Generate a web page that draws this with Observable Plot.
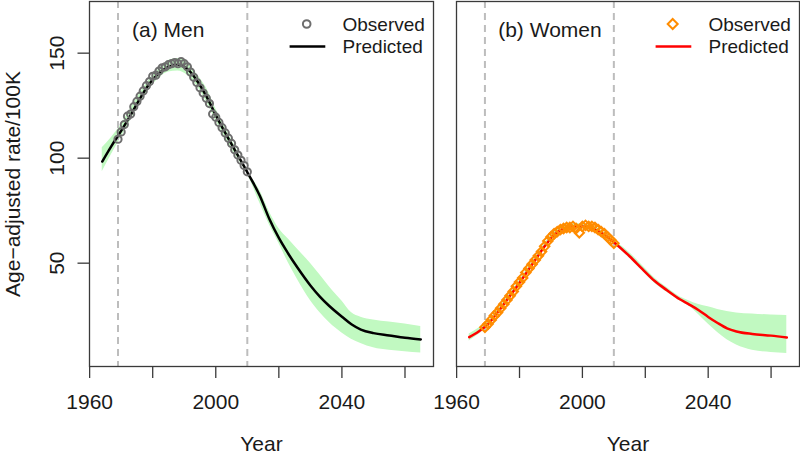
<!DOCTYPE html>
<html>
<head>
<meta charset="utf-8">
<script src="https://cdn.jsdelivr.net/npm/d3@7"></script>
<script src="https://cdn.jsdelivr.net/npm/@observablehq/plot@0.6"></script>
<style>
  body { margin: 0; background: #fff; }
  #wrap { display: flex; width: 800px; height: 454px; }
  #wrap svg { display: block; }
</style>
</head>
<body>
<div id="wrap"></div>
<script>
// ---------- data ----------
const obsYears = d3.range(1969, 2011);

const menObs = [109, 112.5, 116, 120, 121, 124.5, 127, 129.5, 132, 134.5, 136.5, 139, 139.5, 141.5,
  143, 143.5, 144.5, 145, 145.5, 145, 146, 145, 143.5, 141, 138.5, 136, 133.5, 131, 128.5, 126,
  121, 119.5, 117, 114.5, 112, 109.5, 107, 104, 101.5, 99, 96.5, 93.5];

const womenObs = [19.5, 21, 23, 25, 26.5, 28.5, 30.5, 32.5, 34.5, 36.5, 39, 41, 43, 45.5, 47.5,
  49.5, 51.5, 53.5, 55.5, 58, 60.5, 62.5, 64, 65, 66, 66.5, 67, 67, 67.5, 66.5, 64.5, 67.5, 68,
  67.5, 67.5, 67, 66, 65, 64, 62.5, 61, 59.5];

const menPredYears = [1964, 1967, 1970, 1973, 1976, 1979, 1982, 1985, 1988, 1991, 1994, 1997, 2000,
  2003, 2006, 2010, 2014, 2017, 2020, 2023, 2026, 2030, 2033, 2036, 2040, 2043, 2046, 2050, 2055, 2060, 2065];
const menPred = [98.4, 106, 113, 120.5, 128.5, 135.5, 140.5, 143.5, 144.5, 142.5, 137, 129.5, 120.5,
  112, 104, 93.3, 82, 71, 62, 54.5, 47.7, 39.4, 34.1, 29.6, 24.5, 20.9, 18.4, 16.7, 15.6, 14.5, 13.7];
const menLo = [93.5, 102, 110, 118, 126, 133, 138, 141, 141.5, 139.5, 134.5, 127, 118,
  109.5, 102, 92.5, 78.5, 68.3, 59.5, 50.2, 42, 32.2, 26.5, 21.7, 16.8, 13.8, 11.8, 9.7, 8.5, 7.8, 7.2];
const menHi = [105, 110, 116, 123.5, 131, 137.5, 142.5, 146.5, 147.5, 145.5, 140, 133.5, 123.5,
  114.5, 106, 94, 84.5, 74.5, 66.5, 61.5, 56.5, 50, 44.5, 38.8, 32, 26.5, 24.3, 23, 22, 21, 19.8];

const womenPredYears = [1964, 1967, 1970, 1973, 1976, 1979, 1982, 1985, 1988, 1991, 1994, 1997, 2000,
  2003, 2006, 2010, 2015, 2019, 2023, 2027, 2031, 2034, 2037, 2040, 2043, 2046, 2049, 2054, 2060, 2065];
const womenPred = [14.8, 17.5, 21, 26.5, 32.5, 38.5, 45, 51.5, 58, 63.5, 66.5, 67.5, 67.5,
  66.5, 64.5, 60, 53.3, 47.3, 41.5, 37, 32.8, 30.3, 27.6, 24.4, 21.5, 19, 17.5, 16.3, 15.5, 14.6];
const womenLo = [13, 16, 20, 25.5, 31.3, 37.3, 43.8, 50.3, 56.8, 62.3, 65.3, 66.3, 66.3,
  65.3, 63.3, 59, 52.5, 46.5, 40.5, 36, 32, 29.5, 25.5, 21, 17, 13.5, 11, 8.5, 7.5, 7];
const womenHi = [16.3, 19, 22.5, 27.8, 33.8, 39.8, 46.3, 52.8, 59.3, 64.8, 67.8, 68.8, 68.8,
  67.8, 65.8, 61, 55, 49, 43, 38.3, 34, 32, 30.3, 29.2, 28, 27, 26.3, 25.8, 25.3, 25.1];

const cutoffYears = [1969, 2010];
const xTicks = [1960, 1980, 2000, 2020, 2040, 2060];
const xTickLabels = ["1960", "2000", "2040"];
const yTicks = [50, 100, 150];
const yTickLabels = ["50", "100", "150"];
const legendLabels = ["Observed", "Predicted"];
const panelLabels = ["(a) Men", "(b) Women"];
const yLabel = "Age\u2212adjusted rate/100K";
const xLabel = "Year";

const xDomain = [1959.96, 2069.04];
const yDomain = [0.8, 174.6];

// ---------- helpers ----------
const FONT = "'Liberation Sans', Arial, Helvetica, sans-serif";
const INK = "#1a1a1a";
const AXIS = "#3a3a3a";
const BAND = "#c1f9c1";

function series(years, vals) { return years.map((y, i) => ({year: y, value: vals[i]})); }
function band(years, lo, hi) { return years.map((y, i) => ({year: y, lo: lo[i], hi: hi[i]})); }

function legendSymbols(kind, symColor, lineColor) {
  return (index, scales, values, dims) => {
    const right = dims.width - dims.marginRight;
    const top = dims.marginTop;
    const g = d3.create("svg:g");
    const cx = right - 126.3, cy = top + 23;
    if (kind === "circle") {
      g.append("circle").attr("cx", cx).attr("cy", cy).attr("r", 3.8)
        .attr("fill", "none").attr("stroke", symColor).attr("stroke-width", 2);
    } else {
      const r = 5;
      g.append("path").attr("d", `M${cx},${cy - r}L${cx + r},${cy}L${cx},${cy + r}L${cx - r},${cy}Z`)
        .attr("fill", "none").attr("stroke", symColor).attr("stroke-width", 2);
    }
    g.append("line").attr("x1", right - 143.4).attr("x2", right - 107.7)
      .attr("y1", top + 45.5).attr("y2", top + 45.5)
      .attr("stroke", lineColor).attr("stroke-width", 2.5);
    return g.node();
  };
}

function panel(cfg) {
  const marks = [
    Plot.areaY(band(cfg.predYears, cfg.lo, cfg.hi), {x: "year", y1: "lo", y2: "hi", fill: BAND, curve: "monotone-x"}),
    Plot.ruleX(cutoffYears, {stroke: "#bdbdbd", strokeWidth: 2, strokeDasharray: "7,5"}),
    Plot.line(series(cfg.predYears, cfg.pred), {x: "year", y: "value", stroke: cfg.lineColor, strokeWidth: 2.5, curve: "monotone-x"}),
    Plot.dot(series(obsYears, cfg.obs), {x: "year", y: "value", symbol: cfg.symbol, r: cfg.r,
      stroke: cfg.obsColor, strokeWidth: 2, fill: "none"}),
    Plot.frame({stroke: AXIS, strokeWidth: 1.3}),
    Plot.axisX(xTicks, {tickSize: 12, tickFormat: () => "", label: null, stroke: AXIS, strokeWidth: 1.3}),
    Plot.text(xTickLabels, {x: d => +d, text: d => d, frameAnchor: "bottom", dy: 42.5, lineAnchor: "bottom",
      fontSize: 21, fill: INK}),
    Plot.text([xLabel], {frameAnchor: "bottom", dy: 84.5, lineAnchor: "bottom", fontSize: 21, fill: INK}),
    Plot.text([cfg.label], {frameAnchor: "top-left", dx: cfg.labelDx, dy: 35, textAnchor: "start",
      lineAnchor: "bottom", fontSize: 21, fill: INK}),
    Plot.text([legendLabels[0]], {frameAnchor: "top-right", dx: -91, dy: 29.7, textAnchor: "start",
      lineAnchor: "bottom", fontSize: 19, fill: INK}),
    Plot.text([legendLabels[1]], {frameAnchor: "top-right", dx: -91, dy: 51.7, textAnchor: "start",
      lineAnchor: "bottom", fontSize: 19, fill: INK}),
    legendSymbols(cfg.symbol === "circle" ? "circle" : "diamond", cfg.obsColor, cfg.lineColor)
  ];
  if (cfg.showY) {
    marks.push(
      Plot.axisY(yTicks, {tickSize: 11.5, tickFormat: () => "", label: null, stroke: AXIS, strokeWidth: 1.3}),
      Plot.text(yTickLabels, {y: d => +d, text: d => d, frameAnchor: "left", dx: -25.7, rotate: -90, textAnchor: "middle",
        lineAnchor: "bottom", fontSize: 21, fill: INK}),
      Plot.text([yLabel], {frameAnchor: "left", dx: -69.5, rotate: -90, textAnchor: "middle",
        lineAnchor: "bottom", fontSize: 21, fill: INK})
    );
  }
  return Plot.plot({
    width: cfg.width,
    height: 454,
    marginLeft: cfg.marginLeft,
    marginRight: cfg.marginRight,
    marginTop: 1,
    marginBottom: 88,
    x: {domain: xDomain},
    y: {domain: yDomain, axis: cfg.showY ? undefined : null},
    style: {fontFamily: FONT, background: "white", overflow: "visible"},
    marks
  });
}

const wrap = document.getElementById("wrap");
wrap.append(panel({
  obs: menObs, predYears: menPredYears, pred: menPred, lo: menLo, hi: menHi,
  symbol: "circle", r: 3.6, obsColor: "#6e6e6e", lineColor: "#000000",
  label: panelLabels[0], labelDx: 42.5,
  width: 444, marginLeft: 89, marginRight: 11, showY: true
}));
wrap.append(panel({
  obs: womenObs, predYears: womenPredYears, pred: womenPred, lo: womenLo, hi: womenHi,
  symbol: "diamond2", r: 4.3, obsColor: "#ff8c00", lineColor: "#ff0000",
  label: panelLabels[1], labelDx: 41.7,
  width: 356, marginLeft: 12, marginRight: 1, showY: false
}));
</script>
</body>
</html>
